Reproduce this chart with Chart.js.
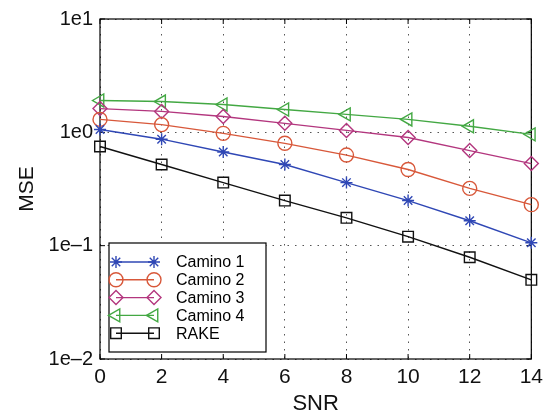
<!DOCTYPE html>
<html lang="en">
<head>
    <meta charset="UTF-8">
    <title>MSE vs SNR</title>
    <style>
        body {
            margin: 0;
            background-color: white;
        }
        #wrap {
            width: 549px;
            height: 419px;
        }
    </style>
    <script src="https://cdn.jsdelivr.net/npm/chart.js"></script>
</head>
<body>
    <div id="wrap"><canvas id="mseChart"></canvas></div>
    <script>
        // SNR values on the x axis
        const snr = [0, 2, 4, 6, 8, 10, 12, 14];

        // MSE
        const camino1 = [1.06, 0.87, 0.67, 0.52, 0.36, 0.25, 0.166, 0.106];
        const camino2 = [1.30, 1.17, 0.98, 0.80, 0.63, 0.47, 0.32, 0.23];
        const camino3 = [1.62, 1.53, 1.38, 1.20, 1.04, 0.90, 0.69, 0.53];
        const camino4 = [1.91, 1.87, 1.76, 1.59, 1.44, 1.30, 1.13, 0.96];
        const rake = [0.75, 0.52, 0.36, 0.25, 0.176, 0.12, 0.079, 0.05];

        const seriesNames = ['Camino 1', 'Camino 2', 'Camino 3', 'Camino 4', 'RAKE'];
        const yTicks = [0.01, 0.1, 1, 10];
        const yTickLabels = ['1e–2', '1e–1', '1e0', '1e1'];

        const toPoints = arr => arr.map((v, i) => ({ x: snr[i], y: v }));

        function makeSet(label, values, color, style, radius, rotation) {
            return {
                label: label,
                data: toPoints(values),
                borderColor: color,
                backgroundColor: 'rgba(0,0,0,0)',
                borderWidth: 1.4,
                pointStyle: style,
                pointRadius: radius,
                pointRotation: rotation || 0,
                pointBorderColor: color,
                pointBackgroundColor: 'rgba(0,0,0,0)',
                pointBorderWidth: 1.4,
                clip: false,
                tension: 0
            };
        }

        // matlab style box + inward ticks + legend in the lower left corner
        const boxPlugin = {
            id: 'boxPlugin',
            beforeDatasetsDraw(chart) {
                const ctx = chart.ctx;
                const a = chart.chartArea;
                const xs = chart.scales.x;
                const ys = chart.scales.y;
                ctx.save();
                ctx.strokeStyle = '#000';
                ctx.lineWidth = 1.2;
                ctx.strokeRect(a.left, a.top, a.right - a.left, a.bottom - a.top);

                ctx.lineWidth = 1;
                ctx.beginPath();
                snr.forEach(v => {
                    const px = xs.getPixelForValue(v);
                    ctx.moveTo(px, a.bottom); ctx.lineTo(px, a.bottom - 5);
                    ctx.moveTo(px, a.top); ctx.lineTo(px, a.top + 5);
                });
                yTicks.forEach(v => {
                    const py = ys.getPixelForValue(v);
                    ctx.moveTo(a.left, py); ctx.lineTo(a.left + 5, py);
                    ctx.moveTo(a.right, py); ctx.lineTo(a.right - 5, py);
                });
                ctx.stroke();
                ctx.restore();
            },
            afterDraw(chart) {
                const ctx = chart.ctx;
                const a = chart.chartArea;
                ctx.save();
                // legend
                const lx = a.left + 9, ly = 243, lw = 157, lh = 109;
                ctx.fillStyle = '#fff';
                ctx.fillRect(lx, ly, lw, lh);
                ctx.strokeStyle = '#000';
                ctx.lineWidth = 1.2;
                ctx.strokeRect(lx, ly, lw, lh);
                ctx.font = '16px "Liberation Sans", Arial, sans-serif';
                ctx.textBaseline = 'middle';
                chart.data.datasets.forEach((ds, i) => {
                    const y = ly + 19 + i * 17.8;
                    const x1 = lx + 7, x2 = lx + 45;
                    ctx.strokeStyle = ds.borderColor;
                    ctx.lineWidth = ds.borderWidth;
                    ctx.beginPath();
                    ctx.moveTo(x1, y); ctx.lineTo(x2, y);
                    ctx.stroke();
                    const opts = {
                        pointStyle: ds.pointStyle,
                        rotation: ds.pointRotation,
                        radius: ds.pointRadius,
                        borderWidth: ds.pointBorderWidth
                    };
                    ctx.strokeStyle = ds.borderColor;
                    ctx.fillStyle = 'rgba(0,0,0,0)';
                    Chart.helpers.drawPoint(ctx, opts, x1, y);
                    Chart.helpers.drawPoint(ctx, opts, x2, y);
                    ctx.fillStyle = '#000';
                    ctx.fillText(ds.label, lx + 67, y + 1);
                });
                ctx.restore();
            }
        };

        const ctx = document.getElementById('mseChart').getContext('2d');
        new Chart(ctx, {
            type: 'line',
            data: {
                datasets: [
                    makeSet(seriesNames[0], camino1, '#2f47b5', 'star', 6),
                    makeSet(seriesNames[1], camino2, '#d8583a', 'circle', 7),
                    makeSet(seriesNames[2], camino3, '#b3367e', 'rectRot', 7),
                    makeSet(seriesNames[3], camino4, '#43a843', 'triangle', 7.5, -90),
                    makeSet(seriesNames[4], rake, '#111111', 'rect', 7.5)
                ]
            },
            options: {
                responsive: true,
                maintainAspectRatio: false,
                animation: false,
                layout: {
                    padding: { top: 17, right: 10, left: 0, bottom: 0 }
                },
                plugins: {
                    legend: { display: false },
                    tooltip: { enabled: false }
                },
                scales: {
                    x: {
                        type: 'linear',
                        min: 0,
                        max: 14,
                        afterBuildTicks: scale => {
                            scale.ticks = snr.map(v => ({ value: v }));
                        },
                        afterFit: scale => { scale.height = 60; },
                        ticks: {
                            autoSkip: false,
                            maxRotation: 0,
                            padding: 6,
                            color: '#111',
                            font: { family: '"Liberation Sans", Arial, sans-serif', size: 21 }
                        },
                        grid: {
                            color: '#555',
                            lineWidth: 1,
                            drawTicks: false
                        },
                        border: { display: false, dash: [1.5, 6] },
                        title: {
                            display: true,
                            text: 'SNR',
                            color: '#111',
                            padding: { top: 2, bottom: 2 },
                            font: { family: '"Liberation Sans", Arial, sans-serif', size: 22 }
                        }
                    },
                    y: {
                        type: 'logarithmic',
                        min: 0.01,
                        max: 10,
                        afterBuildTicks: scale => {
                            scale.ticks = yTicks.map(v => ({ value: v }));
                        },
                        afterFit: scale => { scale.width = 100; },
                        ticks: {
                            padding: 7,
                            color: '#111',
                            callback: (v) => yTickLabels[yTicks.indexOf(v)] || '',
                            font: { family: '"Liberation Sans", Arial, sans-serif', size: 20 }
                        },
                        grid: {
                            color: '#555',
                            lineWidth: 1,
                            drawTicks: false
                        },
                        border: { display: false, dash: [1.5, 6] },
                        title: {
                            display: true,
                            text: 'MSE',
                            color: '#111',
                            padding: { top: 15, bottom: 0 },
                            font: { family: '"Liberation Sans", Arial, sans-serif', size: 21 }
                        }
                    }
                }
            },
            plugins: [boxPlugin]
        });
    </script>
</body>
</html>
